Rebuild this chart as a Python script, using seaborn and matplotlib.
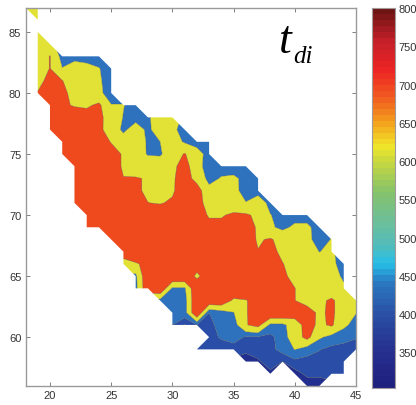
import numpy as np
import matplotlib
matplotlib.use("Agg")
import matplotlib.pyplot as plt
from matplotlib.colors import LinearSegmentedColormap
import seaborn as sns

sns.set_style("white")
plt.rcParams["font.family"] = ["Liberation Sans", "DejaVu Sans"]

lons = list(range(18, 46))
lats = list(range(56, 88))

X = None
# first longitude of each latitude row, then the values read along that row
first_lon = {87: 18, 86: 19, 85: 19, 84: 19, 83: 19, 82: 19, 81: 19, 80: 19, 79: 20, 78: 20, 77: 20,
             76: 21, 75: 21, 74: 22, 73: 22, 72: 22, 71: 22, 70: 23, 69: 23, 68: 25, 67: 26, 66: 26,
             65: 27, 64: 27, 63: 29, 62: 30, 61: 30, 60: 33, 59: 32, 58: 36, 57: 38, 56: 41}
row_87 = [575, 575]
row_86 = [575]
row_85 = [575]
row_84 = [575, 575]
row_83 = [575, 655, 450, 450, 450, 450]
row_82 = [575, 655, 505, 575, 540, 505, 450]
row_81 = [590, 710, 655, 575, 575, 515, 450]
row_80 = [660, 720, 680, 610, 575, 525, 450]
row_79 = [720, 670, 640, 625, 680, 505, 505, 450]
row_78 = [720, 720, 720, 720, 690, 575, 495, 450, 480, 575, 555]
row_77 = [720, 720, 720, 720, 680, 590, 470, 570, 470, 580, 530, 450]
row_76 = [720, 720, 720, 700, 645, 575, 575, 485, 500, 565, 485, 450, 450]
row_75 = [720, 720, 720, 720, 690, 640, 560, 490, 485, 575, 660, 555, 450]
row_74 = [720, 720, 720, 690, 640, 575, 575, 575, 610, 720, 541, 450, 450, 450, 450]
row_73 = [720, 720, 720, 720, 652, 660, 640, 600, 630, 720, 600, 460, 510, 520, 470, 450]
row_72 = [740, 740, 740, 740, 740, 680, 620, 600, 630, 740, 720, 540, 575, 540, 450, 450]
row_71 = [740, 740, 740, 740, 740, 740, 652, 640, 670, 740, 700, 600, 575, 575, 505, 575, 460]
row_70 = [740, 740, 740, 740, 740, 740, 740, 740, 740, 700, 640, 640, 670, 670, 620, 505, 450, 450, 450]
row_69 = [740, 740, 740, 740, 740, 740, 740, 740, 740, 740, 680, 680, 740, 720, 630, 520, 470, 525, 525, 450]
row_68 = [740, 740, 740, 740, 740, 740, 740, 740, 740, 740, 740, 720, 635, 665, 600, 575, 530, 455, 505]
row_67 = [690, 800, 740, 740, 740, 740, 740, 740, 740, 740, 740, 655, 690, 620, 575, 570, 498, 520]
row_66 = [620, 630, 700, 740, 740, 740, 740, 740, 740, 740, 740, 740, 720, 655, 600, 575, 575, 530, 450]
row_65 = [470, 800, 800, 800, 800, 610, 760, 760, 760, 760, 760, 760, 670, 620, 590, 590, 600, 460]
row_64 = [460, 780, 800, 480, 480, 800, 800, 800, 800, 800, 760, 760, 760, 652, 600, 575, 575, 540]
row_63 = [460, 440, 440, 800, 780, 780, 620, 640, 720, 780, 760, 652, 610, 625, 668, 600, 510]
row_62 = [440, 440, 800, 400, 440, 495, 640, 720, 800, 800, 730, 700, 630, 672, 590, 505]
row_61 = [400, 345, 400, 385, 420, 440, 640, 700, 470, 470, 570, 710, 620, 672, 530, 450]
row_60 = [370, 410, 440, 390, 390, 375, 450, 570, 700, 520, 460, 430, 405]
row_59 = [370, 365, 360, 360, 355, 360, 380, 425, 505, 440, 405, 375, 370, 370]
row_58 = [340, 347, 360, 350, 375, 370, 365, 365, 370]
row_57 = [345, X, 335, 358, 358, 365, 365]
row_56 = [330, 330]
rows = {87: row_87, 86: row_86, 85: row_85, 84: row_84, 83: row_83, 82: row_82, 81: row_81, 80: row_80,
        79: row_79, 78: row_78, 77: row_77, 76: row_76, 75: row_75, 74: row_74, 73: row_73, 72: row_72,
        71: row_71, 70: row_70, 69: row_69, 68: row_68, 67: row_67, 66: row_66, 65: row_65, 64: row_64,
        63: row_63, 62: row_62, 61: row_61, 60: row_60, 59: row_59, 58: row_58, 57: row_57, 56: row_56}

band_levels = [300, 350, 400, 500, 650, 810]
band_colors = ["#232f8e", "#2a4ea8", "#2e72bd", "#e2e136", "#ee4a1e"]

cbar_values = [304, 350, 400, 440, 465, 490, 520, 560, 600, 620, 650, 680, 720, 760, 800]
cbar_colors = ["#20207f", "#26308f", "#2b51a6", "#2a78c0", "#27bfe8", "#54bcb8", "#6cbf9b", "#86c36a",
               "#c8d83f", "#f0e62a", "#f4a61e", "#f1641f", "#ee2424", "#c4202a", "#6e1412"]
cbar_ticks = [350, 400, 450, 500, 550, 600, 650, 700, 750, 800]
x_ticks = [20, 25, 30, 35, 40, 45]
y_ticks = [60, 65, 70, 75, 80, 85]

Z = np.full((len(lats), len(lons)), np.nan)
for lat, vals in rows.items():
    for k, v in enumerate(vals):
        if v is not None:
            Z[lat - lats[0], first_lon[lat] - lons[0] + k] = v
Z = np.ma.masked_invalid(Z)

W, H = 416, 406
fig = plt.figure(figsize=(W / 100, H / 100), dpi=100, facecolor="white")


def px_axes(l, t, r, b):
    return fig.add_axes([l / W, 1 - b / H, (r - l) / W, (b - t) / H])


ax = px_axes(25.5, 8.5, 356, 387)
ax.contourf(lons, lats, Z, levels=band_levels, colors=band_colors, corner_mask=True, antialiased=True)
ax.contour(lons, lats, Z, levels=band_levels[1:-1], colors="#4a4a30", linewidths=0.35, alpha=0.6)
ax.set_xlim(18, 45)
ax.set_ylim(56, 87)
ax.set_xticks(x_ticks)
ax.set_yticks(y_ticks)
ax.tick_params(direction="in", length=3, width=0.7, color="#808080", labelcolor="#333333", labelsize=8,
               top=True, right=True, bottom=True, left=True, pad=3)
for s in ax.spines.values():
    s.set_visible(True)
    s.set_color("#9a9a9a")
    s.set_linewidth(1.0)

fig.text(279 / W, 1 - 53 / H, "t", family="Liberation Serif", style="italic", fontsize=33, color="black")
fig.text(293 / W, 1 - 63 / H, "di", family="Liberation Serif", style="italic", fontsize=18, color="black")

cax = px_axes(372, 9, 394.5, 388.7)
n = 64
cmap = LinearSegmentedColormap.from_list(
    "tdi", [((v - cbar_values[0]) / (cbar_values[-1] - cbar_values[0]), c) for v, c in zip(cbar_values, cbar_colors)], N=n)
grad = np.linspace(cbar_values[-1], cbar_values[0], n).reshape(-1, 1)
sns.heatmap(grad, ax=cax, cmap=cmap, cbar=False, xticklabels=False, vmin=cbar_values[0], vmax=cbar_values[-1])
cax.set_yticks([(cbar_values[-1] - v) / (cbar_values[-1] - cbar_values[0]) * n for v in cbar_ticks])
cax.set_yticklabels([str(v) for v in cbar_ticks], rotation=0)
cax.tick_params(axis="y", direction="in", length=3, width=0.7, color="#505050", labelcolor="#333333", labelsize=8,
                left=True, right=True, labelleft=False, labelright=True, pad=3)
cax.tick_params(axis="x", length=0)
for s in cax.spines.values():
    s.set_visible(True)
    s.set_color("#a09a9a")
    s.set_linewidth(0.8)

fig.savefig("out.png", dpi=100)
